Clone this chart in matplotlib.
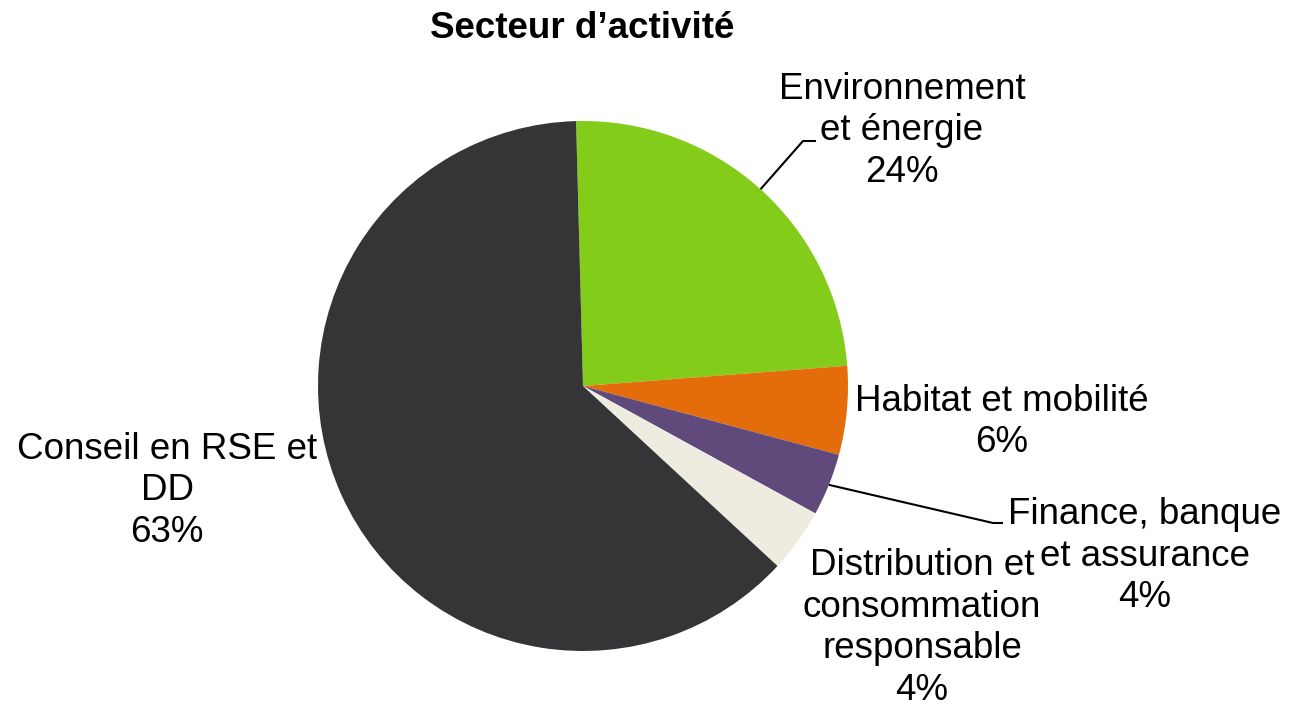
import numpy as np
import matplotlib.pyplot as plt

plt.rcParams['font.family'] = ['Liberation Sans', 'DejaVu Sans']

# data (share in %)
labels = ["Environnement\net énergie", "Habitat et mobilité", "Finance, banque\net assurance",
          "Distribution et\nconsommation\nresponsable", "Conseil en RSE et\nDD"]
values = [24.2, 5.4, 3.8, 3.9, 62.7]
pct_text = ["24%", "6%", "4%", "4%", "63%"]
colors = ["#84CC1A", "#E46C0A", "#604A7B", "#EEECE1", "#353537"]

W, H, DPI = 1291, 707, 100
cx, cy, R = 583, 386, 265  # pie center / radius in pixels

fig = plt.figure(figsize=(W / DPI, H / DPI), dpi=DPI)
ax = fig.add_axes([0, 0, 1, 1])

wedges, _ = ax.pie(values, colors=colors, startangle=91.5, counterclock=False,
                   radius=1, center=(0, 0), wedgeprops=dict(linewidth=0),
                   frame=True)
ax.set_aspect('auto')
ax.set_xlim(-cx / R, (W - cx) / R)
ax.set_ylim(-(H - cy) / R, cy / R)
ax.axis('off')


def px(x, y):
    return (x - cx) / R, (cy - y) / R


# label centres in pixels
label_pos = [(902, 131), (1002, 422), (1145, 556), (922, 628), (167, 491)]
for lab, p, (x, y) in zip(labels, pct_text, label_pos):
    tx, ty = px(x, y)
    ax.text(tx, ty, lab + "\n" + p, ha='center', va='center', fontsize=26.5,
            linespacing=1.25, color='black')

# leader lines (from wedge mid-angle on the rim)
leaders = {0: [(803, 141), (816, 141)], 2: [(993, 523), (1003, 523)]}
for i, pts in leaders.items():
    w = wedges[i]
    ang = np.deg2rad((w.theta1 + w.theta2) / 2)
    xs = [np.cos(ang)] + [px(*p)[0] for p in pts]
    ys = [np.sin(ang)] + [px(*p)[1] for p in pts]
    ax.plot(xs, ys, color='black', lw=1.5, solid_capstyle='butt')

tx, ty = px(582, 29)
ax.text(tx, ty, "Secteur d’activité", ha='center', va='center', fontsize=26.5,
        fontweight='bold')

fig.savefig("out.png", dpi=DPI)
